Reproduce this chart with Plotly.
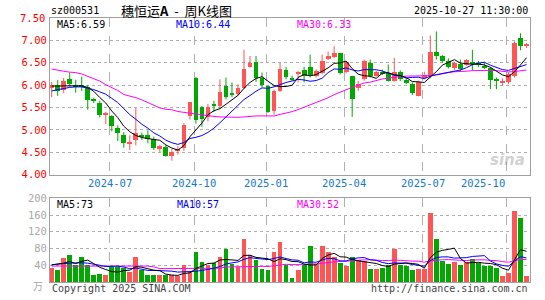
import plotly.graph_objects as go

# ---------------- data (weekly, 2024-04-22 .. 2025-10-27) ----------------
opens = [5.94, 6.01, 5.89, 6.14, 6.01, 6.00, 5.96, 5.68, 5.60, 5.34,
         5.30, 5.05, 4.88, 4.70, 4.77, 4.88, 4.88, 4.80, 4.58, 4.62,
         4.42, 4.55, 4.60, 5.30, 6.17, 5.51, 5.29, 5.58, 5.53, 5.99,
         5.81, 5.80, 5.93, 6.41, 6.51, 6.17, 5.99, 5.43, 5.88, 6.34,
         6.17, 6.26, 6.34, 6.41, 6.21, 6.28, 6.59, 6.63, 6.71, 6.29,
         6.21, 5.94, 6.13, 6.50, 6.21, 6.30, 6.26, 6.10, 6.29, 6.12,
         6.02, 5.76, 6.17, 6.20, 6.75, 6.64, 6.54, 6.39, 6.48, 6.44,
         6.51, 6.50, 6.43, 6.39, 6.13, 6.06, 6.06, 6.21, 7.05, 6.88]
highs = [6.07, 6.11, 6.16, 6.28, 6.12, 6.19, 6.00, 5.72, 5.65, 5.40,
         5.33, 5.10, 4.95, 4.88, 5.49, 4.94, 4.99, 4.85, 4.67, 4.66,
         4.57, 4.64, 5.15, 5.62, 6.18, 5.53, 5.58, 5.65, 6.13, 6.17,
         6.06, 6.02, 6.79, 6.65, 6.65, 6.28, 5.99, 5.90, 6.50, 6.41,
         6.21, 6.32, 6.41, 6.68, 6.35, 6.68, 6.75, 6.87, 6.72, 6.54,
         6.21, 6.09, 6.57, 6.57, 6.32, 6.35, 6.46, 6.61, 6.33, 6.16,
         6.06, 6.10, 6.30, 7.11, 7.20, 6.67, 6.60, 6.52, 6.57, 6.58,
         6.79, 6.54, 6.52, 6.40, 6.17, 6.15, 6.29, 6.98, 7.16, 6.94]
lows = [5.73, 5.76, 5.82, 5.97, 5.83, 5.87, 5.45, 5.60, 5.28, 5.13,
        4.97, 4.75, 4.60, 4.55, 4.65, 4.77, 4.70, 4.55, 4.50, 4.40,
        4.31, 4.45, 4.53, 5.23, 5.14, 5.07, 5.19, 5.40, 5.47, 5.68,
        5.73, 5.76, 5.91, 6.39, 6.07, 5.95, 5.38, 5.34, 5.85, 6.13,
        6.10, 6.06, 6.06, 6.17, 6.17, 6.24, 6.56, 6.60, 6.24, 6.26,
        5.29, 5.87, 6.10, 6.17, 6.19, 6.22, 6.08, 6.08, 6.09, 6.02,
        5.78, 5.75, 6.13, 6.15, 6.57, 6.50, 6.37, 6.33, 6.30, 6.43,
        6.32, 6.40, 6.36, 5.91, 5.91, 5.99, 6.02, 6.17, 6.78, 6.83]
closes = [6.01, 5.86, 6.09, 6.03, 5.98, 5.97, 5.67, 5.66, 5.34, 5.36,
          5.08, 4.93, 4.70, 4.72, 4.94, 4.86, 4.80, 4.60, 4.64, 4.42,
          4.51, 4.57, 5.11, 5.62, 5.21, 5.25, 5.51, 5.55, 5.85, 5.73,
          5.79, 5.93, 6.35, 6.50, 6.17, 6.00, 5.41, 5.88, 6.37, 6.19,
          6.13, 6.29, 6.21, 6.22, 6.32, 6.53, 6.65, 6.71, 6.28, 6.51,
          5.69, 6.03, 6.54, 6.21, 6.29, 6.26, 6.10, 6.30, 6.13, 6.05,
          5.82, 6.07, 6.22, 6.75, 6.64, 6.55, 6.41, 6.50, 6.37, 6.56,
          6.49, 6.44, 6.39, 6.11, 6.10, 6.10, 6.24, 6.94, 6.87, 6.91]
volumes = [33, 27, 56, 63, 41, 60, 41, 15, 18, 15,
           35, 35, 33, 23, 58, 27, 17, 16, 17, 17,
           16, 13, 39, 24, 70, 47, 41, 44, 60, 77,
           42, 35, 103, 63, 51, 31, 29, 70, 96, 41,
           9, 27, 41, 85, 42, 85, 70, 60, 45, 37,
           58, 53, 49, 31, 30, 34, 41, 77, 39, 37,
           27, 31, 31, 164, 103, 49, 42, 47, 41, 47,
           55, 45, 37, 37, 33, 13, 21, 168, 152, 13]

ma5_head = [5.98, 5.98, 5.98, 5.98]
ma10_head = [5.87, 5.90, 5.93, 5.95, 5.96, 5.96, 5.93, 5.90, 5.85]
ma30_head = [6.36, 6.33, 6.31, 6.29, 6.28, 6.25, 6.20, 6.15, 6.09, 6.01,
             5.94, 5.88, 5.79, 5.76, 5.72, 5.67, 5.61, 5.55, 5.49, 5.46,
             5.45, 5.41, 5.39, 5.37, 5.35, 5.34, 5.31, 5.30, 5.29]
vma5_head = [41, 43, 45, 49]
vma10_head = [41, 43, 44, 45, 46, 46, 45, 43, 40]
vma30_head = [38] * 17 + [36, 32, 32, 32, 32, 32, 33, 33, 33, 33, 33, 33]

tick_weeks = [10, 24, 36, 49, 62, 76]
tick_labels = ["2024-07", "2024-10", "2025-01", "2025-04", "2025-07", "2025-10"]
price_ticks = [4.0, 4.5, 5.0, 5.5, 6.0, 6.5, 7.0]
price_top = 7.5
vol_ticks = [40, 80, 120, 160, 200]

# ---------------- helpers ----------------
RED = "#ff5555"
GREEN = "#00a800"
MONO = "DejaVu Sans Mono"
GRID = "#b0b0b0"
FRAME = "#a0a0a0"

n = len(closes)
idx = list(range(n))


def rolling(vals, w, head):
    out = []
    for i in range(len(vals)):
        if i < w - 1:
            out.append(head[i])
        else:
            out.append(sum(vals[i - w + 1:i + 1]) / w)
    return out


up = [c >= o for o, c in zip(opens, closes)]
colors = [RED if u else GREEN for u in up]
body_base = [min(o, c) for o, c in zip(opens, closes)]
body_h = [max(abs(c - o), 0.018) for o, c in zip(opens, closes)]

fig = go.Figure()

# wicks
for flag, col in ((True, RED), (False, GREEN)):
    wx, wy = [], []
    for i in idx:
        if up[i] == flag:
            wx += [i, i, None]
            wy += [lows[i], highs[i], None]
    fig.add_trace(go.Scatter(x=wx, y=wy, mode="lines", line=dict(color=col, width=1),
                             hoverinfo="skip", showlegend=False, xaxis="x", yaxis="y"))

# bodies
fig.add_trace(go.Bar(x=idx, y=body_h, base=body_base, width=0.8,
                     marker=dict(color=colors, line=dict(width=0)),
                     showlegend=False, xaxis="x", yaxis="y"))

# price MAs
for w, head, col in ((30, ma30_head, "#ff00ff"), (10, ma10_head, "#0000ff"), (5, ma5_head, "#000000")):
    fig.add_trace(go.Scatter(x=idx, y=rolling(closes, w, head), mode="lines",
                             line=dict(color=col, width=1), hoverinfo="skip",
                             showlegend=False, xaxis="x", yaxis="y"))

# volume bars
fig.add_trace(go.Bar(x=idx, y=volumes, width=0.8,
                     marker=dict(color=colors, line=dict(width=0)),
                     showlegend=False, xaxis="x2", yaxis="y2"))
for w, head, col in ((30, vma30_head, "#ff00ff"), (10, vma10_head, "#0000ff"), (5, vma5_head, "#000000")):
    fig.add_trace(go.Scatter(x=idx, y=rolling(volumes, w, head), mode="lines",
                             line=dict(color=col, width=1), hoverinfo="skip",
                             showlegend=False, xaxis="x2", yaxis="y2"))

# ---------------- layout ----------------
L, R, T, B = 50, 15, 18, 14
W, H = 545, 300
PW, PH = W - L - R, H - T - B
main_bottom = 177
vol_top = 201
xr = [-0.28, -0.28 + PW / 6.01]


def px(x):
    return (x - L) / PW


def py(y):
    return (H - B - y) / PH


grid_x = [t - 0.3 for t in tick_weeks]

xcommon = dict(range=xr, tickmode="array", tickvals=grid_x, showticklabels=False,
               showgrid=True, gridcolor=GRID, griddash="dash", gridwidth=1,
               showline=True, mirror=True, linecolor=FRAME, linewidth=1,
               zeroline=False, ticks="", fixedrange=True)

fig.update_layout(
    width=W, height=H,
    margin=dict(l=L, r=R, t=T, b=B),
    paper_bgcolor="white", plot_bgcolor="white",
    barmode="overlay", bargap=0,
    showlegend=False,
    xaxis=dict(anchor="y", **xcommon),
    xaxis2=dict(anchor="y2", matches="x", **xcommon),
    yaxis=dict(domain=[py(main_bottom), 1], range=[4.0, price_top], tickmode="array",
               tickvals=price_ticks, ticktext=[f"{v:.2f}" for v in price_ticks],
               tickfont=dict(family=MONO, size=10.5, color="#ff0000"),
               showgrid=True, gridcolor=GRID, griddash="dot", gridwidth=1,
               showline=True, mirror=True, linecolor=FRAME, zeroline=False, ticks=""),
    yaxis2=dict(domain=[0, py(vol_top)], range=[0, 200], tickmode="array",
                tickvals=vol_ticks, ticktext=[str(v) for v in vol_ticks],
                tickfont=dict(family=MONO, size=10.5, color="#a8a8a8"),
                showgrid=True, gridcolor=GRID, griddash="dot", gridwidth=1,
                showline=True, mirror=True, linecolor=FRAME, zeroline=False, ticks=""),
)

ann = []


def add(text, x, y, xanchor="left", color="#000000", size=10, family=MONO, **kw):
    ann.append(dict(text=text, x=px(x), y=py(y), xref="paper", yref="paper",
                    xanchor=xanchor, yanchor="middle", showarrow=False,
                    font=dict(family=family, size=size, color=color), **kw))


add("sz000531", 49, 10.5)
add("穗恒运<b>A</b>  -  周K线图", 119, 10.5, family="Noto Sans CJK SC", size=13)
add("2025-10-27 11:30:00", 530, 10.5, xanchor="right")

# top price label on the frame edge
ann.append(dict(text=f"{price_top:.2f}", x=0, y=price_top, xref="paper", yref="y",
                xanchor="right", yanchor="middle", xshift=-3, showarrow=False,
                font=dict(family=MONO, size=10.5, color="#ff0000")))

add("MA5:6.59", 55, 25)
add("MA10:6.44", 174, 25, color="#0000ff")
add("MA30:6.33", 295, 25, color="#ff00ff")

add("MA5:73", 55, 207)
add("MA10:57", 175, 207, color="#0000ff")
add("MA30:52", 295, 207, color="#ff00ff")

add("万", 45, 290, xanchor="right", color="#a8a8a8", family="Noto Sans CJK SC", size=10)
add("Copyright 2025 SINA.COM", 50, 293, color="#444444")
add("http://finance.sina.com.cn", 530, 293, xanchor="right", color="#444444")
add("<b><i>sina</i></b>", 527, 162, xanchor="right", color="rgba(150,150,150,0.45)",
    family="DejaVu Sans", size=15)

for t, lab, last in zip(grid_x, tick_labels, [False] * 5 + [True]):
    ann.append(dict(text=lab, x=t, y=py(186), xref="x", yref="paper",
                    xanchor="right" if last else "center", yanchor="middle",
                    showarrow=False, font=dict(family=MONO, size=10.5, color="#1479c9")))

fig.update_layout(annotations=ann)

fig.write_html("out.html")
